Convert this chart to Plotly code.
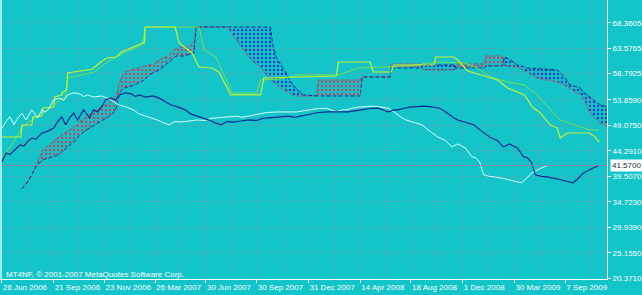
import numpy as np
import plotly.graph_objects as go

# ---------------- data (bar index, value) ----------------
price_bar = [0, 2, 4, 6, 9, 11, 13, 15, 17, 20, 23, 26, 28, 30, 32, 34, 36, 38, 41, 44, 46, 48, 50,
             52, 55, 57, 59, 62, 65, 67, 69, 72, 76, 79, 82, 85, 88, 92, 95, 99, 102, 104, 107, 110,
             113, 116, 120, 124, 128, 131, 134, 139, 144, 147, 150, 155, 159, 164, 169, 174, 179,
             184, 189, 192, 194, 197, 199, 202, 205, 209, 212, 215, 217, 220, 223, 225, 227, 229,
             233, 237, 241, 245, 249, 252, 255, 259, 262, 264, 266, 268, 271, 274, 278, 281, 284,
             287, 290, 292, 296, 299, 300]
price_val = [42.2, 43.9, 43.6, 44.4, 45.4, 45.2, 46.1, 46.7, 46.5, 47.6, 48.0, 48.6, 49.8, 50.7,
             49.2, 50.5, 51.4, 50.1, 52.0, 50.5, 52.0, 51.6, 52.5, 53.9, 54.2, 53.8, 54.8, 55.2,
             55.0, 54.5, 54.8, 54.4, 54.6, 54.2, 53.6, 52.9, 52.6, 52.0, 51.2, 50.7, 50.4, 50.1,
             49.6, 49.2, 49.8, 49.7, 49.9, 50.1, 50.0, 50.4, 50.5, 50.6, 50.8, 50.6, 50.8, 51.2,
             51.5, 51.6, 51.6, 51.6, 51.9, 52.2, 52.3, 51.8, 51.6, 52.0, 52.0, 52.3, 52.5, 52.6,
             52.7, 52.6, 52.5, 52.3, 51.6, 51.0, 50.5, 50.1, 49.6, 49.2, 48.0, 46.9, 46.2, 45.0,
             45.6, 44.8, 43.2, 43.0, 42.2, 39.8, 39.5, 39.4, 39.1, 38.8, 38.6, 38.3, 39.3, 40.1,
             40.9, 41.4, 41.57]
chikou_shift = 26

tenkan_bar = [0, 9.5, 10, 15, 15.5, 20, 20.5, 26, 26.5, 30, 30.5, 32.5, 33, 45.5, 49, 52.5, 57.5,
              60, 62.5, 70.5, 71.5, 72, 87, 89, 95.5, 99, 105.5, 109, 115, 130, 131.5, 168, 169,
              185, 186.5, 195.5, 197, 217, 218, 227, 229, 234, 242.5, 249, 254, 262.5, 266.5,
              270.5, 275.5, 279, 280.5, 284, 295, 297.5, 300]
tenkan_val = [46.90, 46.90, 49.15, 49.15, 50.66, 50.84, 52.35, 52.53, 54.41, 54.79, 55.35, 55.72,
              58.92, 59.67, 60.79, 61.73, 61.92, 62.86, 63.24, 64.55, 64.55, 67.55, 67.55, 64.55,
              62.67, 60.04, 59.86, 59.10, 54.79, 54.79, 57.98, 58.35, 60.98, 60.98, 59.10, 59.10,
              60.42, 60.42, 61.92, 61.92, 61.36, 59.29, 58.35, 57.60, 56.10, 54.79, 52.53, 51.41,
              49.15, 48.59, 46.71, 47.65, 47.65, 47.09, 45.96]

kijun_bar = [0, 5, 10, 16.5, 21.5, 28, 32, 33, 46.5, 51.5, 58, 63, 70.5, 72, 99, 101.5, 107.5,
             111.5, 115.5, 128, 130, 140, 149, 169, 179, 204, 219, 232.5, 239, 245.5, 254, 262.5,
             269, 272.5, 280.5, 289, 295.5, 300]
kijun_val = [43.15, 45.40, 48.78, 50.47, 51.59, 53.47, 54.60, 57.98, 59.10, 60.61, 61.92, 63.05,
             64.17, 67.55, 67.55, 63.24, 61.92, 58.54, 55.16, 55.16, 57.60, 57.79, 58.54, 58.54,
             59.86, 60.23, 60.98, 60.79, 59.86, 58.17, 57.23, 56.66, 54.79, 53.28, 50.09, 48.97,
             48.21, 48.21]

span_bar = [10, 12.5, 15, 17.5, 20.5, 24, 26.5, 29, 31.5, 34, 37.5, 39, 44, 49, 54, 56.5, 57.5,
            58, 59, 59.5, 61.5, 66.5, 71.5, 74, 76.5, 79, 84, 86.5, 87.5, 90, 91.5, 94, 96.5,
            97.5, 113, 115.5, 119, 121.5, 124, 126.5, 130, 133, 135, 136, 138, 140, 142.5, 144.5,
            147.5, 151.5, 158, 159, 180, 181, 195, 195.5, 210.5, 211.5, 227.5, 228, 242.5, 243,
            251.5, 252.5, 255.5, 259, 264, 269, 279, 282.5, 285.5, 289, 290.5, 292.5, 295.5, 299,
            300.5, 304]
span_a = [37.14, 38.27, 39.77, 42.02, 44.46, 45.40, 46.34, 47.00, 47.65, 48.20, 49.15, 49.80,
          51.03, 52.35, 53.28, 54.22, 54.80, 55.72, 56.90, 57.60, 59.10, 59.67, 60.23, 60.40,
          60.61, 61.36, 62.30, 63.24, 63.40, 63.80, 63.80, 63.80, 64.74, 67.55, 67.55, 66.43,
          64.55, 63.24, 61.92, 60.98, 60.04, 58.54, 57.90, 57.30, 56.80, 56.10, 55.60, 55.10,
          54.60, 54.60, 54.60, 57.60, 57.60, 58.17, 58.17, 60.61, 60.61, 59.48, 59.48, 60.61,
          60.61, 62.11, 62.11, 60.23, 60.10, 60.04, 59.00, 57.98, 57.23, 56.66, 56.00, 55.16,
          55.00, 53.85, 51.41, 50.00, 49.53, 48.97]
span_b = [37.14, 38.27, 39.77, 41.64, 42.58, 42.96, 43.30, 43.71, 44.50, 45.40, 46.50, 47.28,
          48.59, 49.71, 50.84, 51.60, 52.35, 53.50, 55.16, 55.50, 56.10, 56.66, 57.60, 58.54,
          59.10, 59.48, 60.98, 61.90, 62.11, 62.11, 62.11, 62.40, 62.67, 67.55, 67.55, 67.55,
          67.55, 67.55, 67.55, 67.55, 67.55, 67.55, 67.55, 64.17, 61.73, 60.50, 59.10, 57.60,
          56.10, 54.79, 54.60, 54.60, 54.60, 58.17, 58.17, 59.86, 59.86, 60.42, 60.42, 59.86,
          59.86, 60.23, 60.23, 61.92, 61.36, 60.42, 59.86, 59.70, 59.48, 58.17, 56.66, 56.30,
          56.10, 55.20, 54.41, 53.28, 53.00, 52.53]

y_tick_vals = [68.3605, 63.5765, 58.7925, 53.8590, 49.0750, 44.2910, 39.5070, 34.7230, 29.9390,
               25.1550, 20.3710]
y_tick_text = ["68.3605", "63.5765", "58.7925", "53.8590", "49.0750", "44.2910", "39.5070",
               "34.7230", "29.9390", "25.1550", "20.3710"]
x_tick_bars = [0, 26, 51.5, 77, 102.5, 128, 154, 180, 205.5, 231.5, 257.5, 283]
x_tick_text = ["26 Jun 2006", "21 Sep 2006", "23 Nov 2006", "26 Mar 2007", "30 Jun 2007",
               "30 Sep 2007", "31 Dec 2007", "14 Apr 2008", "18 Aug 2008", "1 Dec 2008",
               "30 Mar 2009", "7 Sep 2009"]
last_price = 41.57
last_price_text = "41.5700"
watermark = "MT4NF, © 2001-2007 MetaQuotes Software Corp."

# ---------------- styles ----------------
BG = "#13C4C9"
GRID = "#7F93A2"
FONT = "Liberation Sans, Arial, sans-serif"
FS = 8
C_PRICE = "#0E2A8E"
C_CHIKOU = "#D8FFFF"
C_TENKAN = "#C6F236"
C_KIJUN = "#78E050"
C_SPAN_A = "#B04A60"
C_SPAN_B = "#1A2E90"
C_DOT_A = "#B0506C"
C_DOT_B = "#1E46C0"

fig = go.Figure()

a = np.array(span_a)
b = np.array(span_b)
upper = np.maximum(a, b)

pat = dict(shape=".", bgcolor="rgba(0,0,0,0)", size=4, solidity=0.3, fillmode="replace")
# red hatch where A above B
fig.add_trace(go.Scatter(x=span_bar, y=b, mode="lines", line=dict(width=0), hoverinfo="skip"))
fig.add_trace(go.Scatter(x=span_bar, y=upper, mode="lines", line=dict(width=0), fill="tonexty",
                         fillcolor="rgba(0,0,0,0)", fillpattern=dict(pat, fgcolor=C_DOT_A),
                         hoverinfo="skip"))
# blue hatch where B above A
fig.add_trace(go.Scatter(x=span_bar, y=a, mode="lines", line=dict(width=0), hoverinfo="skip"))
fig.add_trace(go.Scatter(x=span_bar, y=upper, mode="lines", line=dict(width=0), fill="tonexty",
                         fillcolor="rgba(0,0,0,0)", fillpattern=dict(pat, fgcolor=C_DOT_B),
                         hoverinfo="skip"))

fig.add_trace(go.Scatter(x=span_bar, y=span_a, mode="lines",
                         line=dict(color=C_SPAN_A, width=1, dash="4px,2px")))
fig.add_trace(go.Scatter(x=span_bar, y=span_b, mode="lines",
                         line=dict(color=C_SPAN_B, width=1, dash="4px,2px")))

fig.add_trace(go.Scatter(x=kijun_bar, y=kijun_val, mode="lines",
                         line=dict(color=C_KIJUN, width=1)))
fig.add_trace(go.Scatter(x=tenkan_bar, y=tenkan_val, mode="lines",
                         line=dict(color=C_TENKAN, width=1.2)))

chikou_x = [x - chikou_shift for x in price_bar]
fig.add_trace(go.Scatter(x=chikou_x, y=price_val, mode="lines",
                         line=dict(color=C_CHIKOU, width=1)))
fig.add_trace(go.Scatter(x=price_bar, y=price_val, mode="lines",
                         line=dict(color=C_PRICE, width=1.2)))

mid_vals = [(x_tick_bars[i] + x_tick_bars[i + 1]) / 2 for i in range(len(x_tick_bars) - 1)]
mid_vals.append(x_tick_bars[-1] + (x_tick_bars[-1] - mid_vals[-1]))

fig.update_layout(
    width=642, height=295,
    margin=dict(l=0, r=32, t=0, b=16),
    paper_bgcolor=BG, plot_bgcolor=BG,
    showlegend=False,
    xaxis=dict(range=[-1, 304], tickmode="array", tickvals=x_tick_bars, ticktext=x_tick_text,
               tickangle=0,
               ticks="outside", ticklen=3, tickcolor="white", tickwidth=1,
               showline=True, linecolor="white", linewidth=1,
               showgrid=True, gridcolor=GRID, griddash="1px,2px", gridwidth=1,
               ticklabelposition="outside right", zeroline=False,
               tickfont=dict(family=FONT, size=FS, color="white"),
               minor=dict(tickmode="array", tickvals=mid_vals, showgrid=True, gridcolor=GRID,
                          griddash="1px,2px", gridwidth=1, ticks="")),
    yaxis=dict(range=[20.24, 72.62], side="right", tickmode="array", tickvals=y_tick_vals,
               ticktext=y_tick_text, ticks="outside", ticklen=3, tickcolor="white",
               showline=True, linecolor="white", linewidth=1,
               showgrid=True, gridcolor=GRID, griddash="1px,2px", gridwidth=1, zeroline=False,
               tickfont=dict(family=FONT, size=FS, color="white")),
)

fig.add_shape(type="line", xref="paper", x0=0, x1=1, yref="y", y0=last_price, y1=last_price,
              line=dict(color="#7D8CA0", width=1))
fig.add_shape(type="line", xref="x", x0=-0.5, x1=-0.5, yref="paper", y0=0, y1=1,
              line=dict(color="#C8FFFF", width=1.5))

fig.add_annotation(xref="paper", x=1, xanchor="left", xshift=3, yref="y", y=last_price,
                   yanchor="middle", text=last_price_text, showarrow=False,
                   font=dict(family=FONT, size=FS, color="#1C3040"),
                   bgcolor="white", borderpad=1)
fig.add_annotation(xref="paper", x=0, xanchor="left", xshift=4, yref="paper", y=0.016,
                   yanchor="middle", text=watermark, showarrow=False,
                   font=dict(family=FONT, size=FS, color="white"))

fig.write_html("out.html", config={"displayModeBar": False})
